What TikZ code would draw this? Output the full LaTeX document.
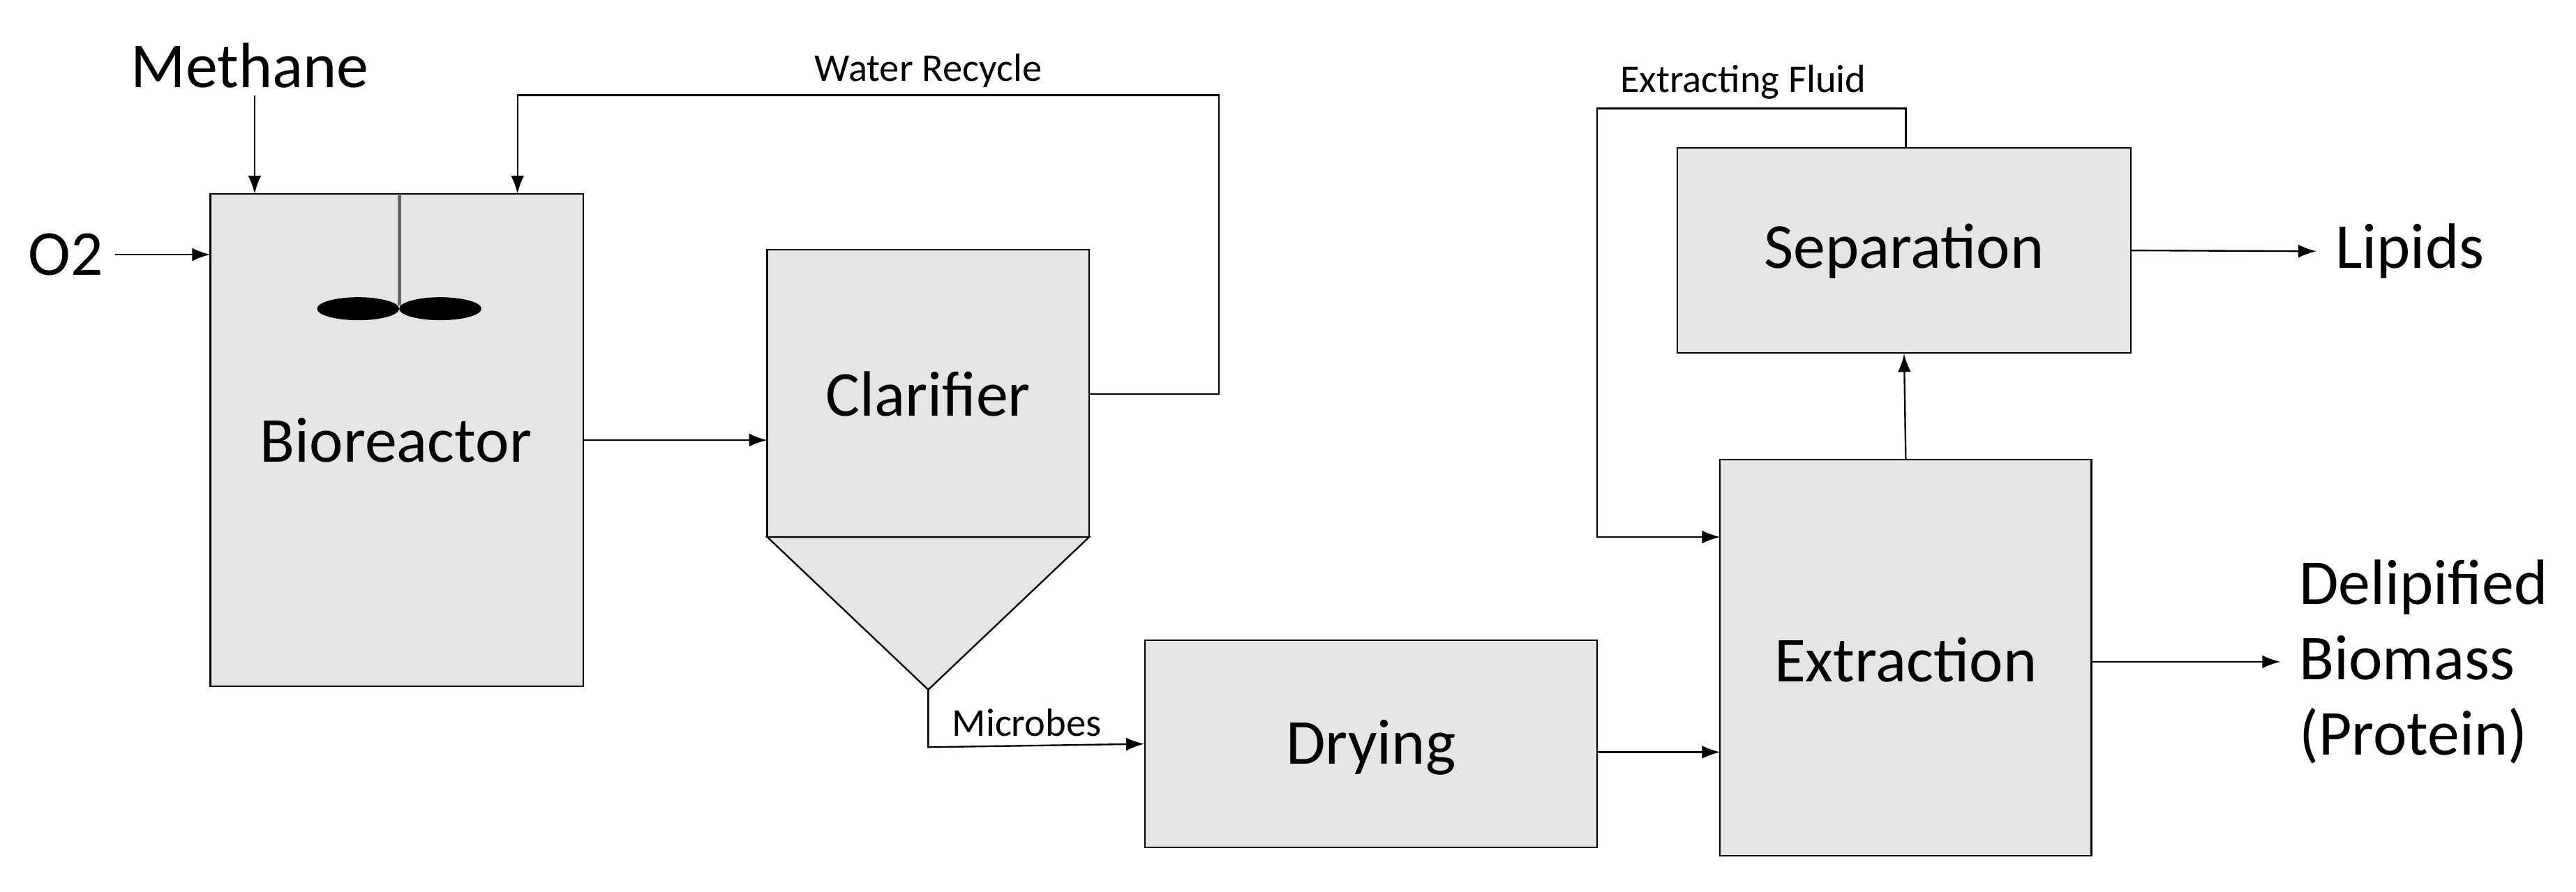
\documentclass[tikz,border=0pt]{standalone}
\usepackage{fontspec}
\setmainfont{Carlito}
\usetikzlibrary{arrows.meta}
\begin{document}
\begin{tikzpicture}[x=1pt,y=-1pt,
 box/.style={draw,fill=black!10,line width=1pt},
 big/.style={font=\fontsize{39}{46}\selectfont},
 small/.style={font=\fontsize{24}{26}\selectfont},
 arr/.style={-{Latex[length=11pt,width=8pt]},line width=1pt},
 ln/.style={line width=1pt}]
\useasboundingbox (0,0) rectangle (1568,543);
\node[box,minimum width=227pt,minimum height=300pt] (bio) at (241.5,268) {};
\node[big] at (241,268) {Bioreactor};
\draw[ln,black!60,line width=2pt] (243,118) -- (243,186);
\fill (218,188) ellipse (25 and 7);
\fill (268,188) ellipse (25 and 7);
\node[big] (meth) at (152,40) {Methane};
\node[big] (o2) at (40,155) {O2};
\draw[arr] (155,58) -- (155,118);
\draw[arr] (70,155) -- (128,155);
\node[box,minimum width=196pt,minimum height=175pt] (cla) at (565,239.5) {};
\node[big] at (565,240) {Clarifier};
\draw[box] (467,327) -- (663,327) -- (565,420) -- cycle;
\coordinate (cone) at (565,420);
\draw[arr] (355,268) -- (467,268);
\draw[arr] (663,240) -- (742,240) -- (742,58) -- (315,58) -- (315,118);
\node[small] at (565,43) {Water Recycle};
\node[box,minimum width=275pt,minimum height=126pt] (dry) at (834.5,453) {};
\node[big] at (834.5,455) {Drying};
\draw[arr] (cone) -- (565,455) -- (dry.west);
\node[small] at (625,440) {Microbes};
\node[box,minimum width=226pt,minimum height=241pt] (ext) at (1160,400.5) {};
\node[big] at (1160,402) {Extraction};
\node[box,minimum width=276pt,minimum height=125pt] (sep) at (1159,152.5) {};
\node[big] at (1159,153) {Separation};
\draw[arr] (972,458) -- (1047,458);
\draw[arr] (ext.north) -- (sep.south);
\node[big,anchor=west] (lip) at (1418,153) {Lipids};
\draw[arr] (sep.east) -- (1410,153);
\draw[arr] (1160,90) -- (1160,66) -- (972,66) -- (972,327) -- (1047,327);
\node[small] at (1061,50) {Extracting Fluid};
\node[big,align=left,anchor=west] (del) at (1396,403) {Delipified\\Biomass\\(Protein)};
\draw[arr] (ext.east |- 0,403) -- (1388,403);
\end{tikzpicture}
\end{document}
